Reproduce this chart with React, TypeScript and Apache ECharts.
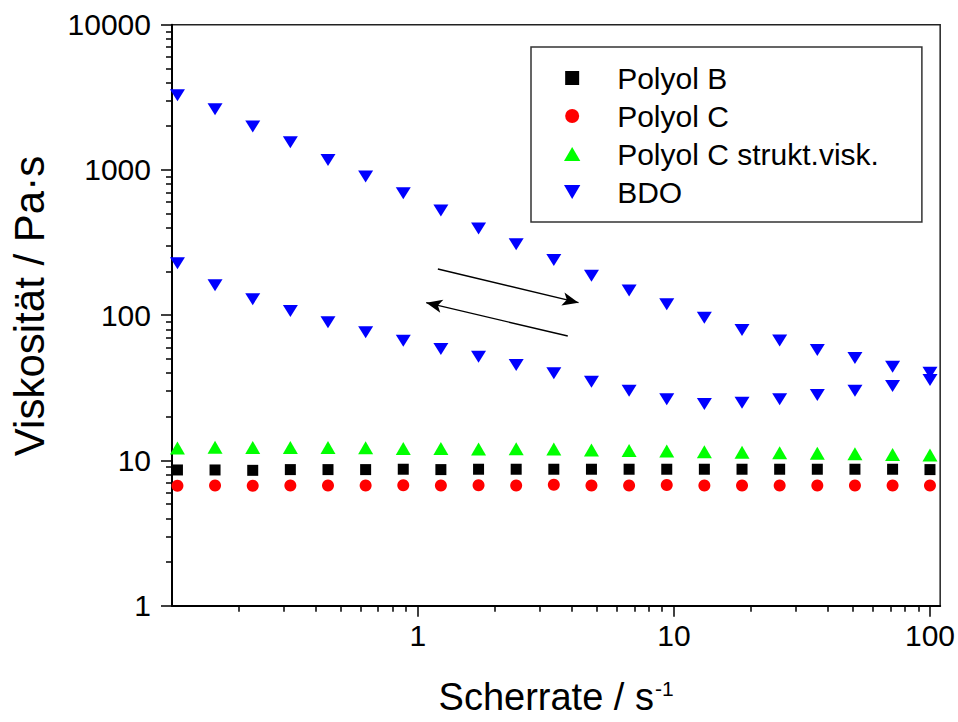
import React, { useEffect, useRef } from "react";
import * as echarts from "echarts";

const FONT = "'Liberation Sans', Arial, sans-serif";

// Shear rate (1/s)
const shearRate = [0.1151, 0.1614, 0.2265, 0.3177, 0.4457, 0.6252, 0.877, 1.23, 1.726, 2.421, 3.396, 4.764, 6.683, 9.376, 13.15, 18.45, 25.88, 36.31, 50.93, 71.45, 100];
// Viscosity (Pa·s)
const polyolB = [8.6, 8.6, 8.55, 8.65, 8.65, 8.65, 8.7, 8.65, 8.7, 8.7, 8.7, 8.7, 8.7, 8.7, 8.7, 8.7, 8.7, 8.7, 8.7, 8.7, 8.65];
const polyolC = [6.7, 6.72, 6.7, 6.72, 6.72, 6.72, 6.75, 6.72, 6.75, 6.72, 6.8, 6.72, 6.72, 6.78, 6.72, 6.72, 6.72, 6.72, 6.72, 6.72, 6.72];
const polyolCStrukt = [12.2, 12.35, 12.3, 12.3, 12.3, 12.25, 12.1, 12.1, 12.0, 12.05, 12.0, 11.8, 11.7, 11.6, 11.5, 11.4, 11.3, 11.2, 11.1, 11.0, 10.9];
const bdoUp = [3270, 2620, 1990, 1550, 1170, 900, 690, 525, 396, 308, 240, 187, 148, 119, 96, 79, 67, 57.6, 50.7, 44.2, 40.2];
const bdoDown = [228, 161, 129, 107, 89.4, 76.3, 66.8, 58.5, 51.8, 45.4, 39.8, 34.8, 30.2, 26.4, 24.5, 25.0, 26.4, 28.2, 30.2, 32.6, 35.8];

const xTicks = [1, 10, 100];
const yTicks = [1, 10, 100, 1000, 10000];

// Annotation arrows (data coordinates: [shear rate, viscosity])
const arrowForward = [[1.197, 208], [4.24, 122]];
const arrowBackward = [[3.85, 71.9], [1.078, 122]];

const seriesNames = ["Polyol B", "Polyol C", "Polyol C strukt.visk."];
const bdoName = "BDO";

const ICON_SQUARE = "path://M0,0L10,0L10,10L0,10Z";
const ICON_CIRCLE = "path://M7,0A7,7,0,1,1,7,14A7,7,0,1,1,7,0Z";
const ICON_UP = "path://M7,0L14,12L0,12Z";
const ICON_DOWN = "path://M0,0L14,0L7,12Z";

const pairs = (ys: number[]) => shearRate.map((x, i) => [x, ys[i]]);

export default function App() {
  const ref = useRef<HTMLDivElement>(null);
  useEffect(() => {
    if (!ref.current) return;
    const chart = echarts.init(ref.current, undefined, { renderer: "svg" });
    const axisLineStyle = { color: "#000", width: 2 };
    const tickStyle = { color: "#000", width: 1.5 };
    chart.setOption({
      animation: false,
      backgroundColor: "#fff",
      grid: {
        left: 172,
        top: 24.7,
        right: 17,
        bottom: 116.3,
        show: true,
        borderColor: "#222",
        borderWidth: 1.5,
        backgroundColor: "transparent",
      },
      legend: {
        orient: "vertical",
        left: 531,
        top: 47,
        padding: [16, 43, 15, 33],
        itemWidth: 80,
        itemHeight: 14,
        itemGap: 8,
        borderColor: "#333",
        borderWidth: 1.5,
        selectedMode: false,
        textStyle: { fontSize: 30, fontFamily: FONT, color: "#000", lineHeight: 30 },
        data: [
          { name: seriesNames[0], icon: ICON_SQUARE },
          { name: seriesNames[1], icon: ICON_CIRCLE },
          { name: seriesNames[2], icon: ICON_UP },
          { name: bdoName, icon: ICON_DOWN },
        ],
      },
      xAxis: {
        type: "log",
        logBase: 10,
        min: 0.1096,
        max: 109.6,
        name: "{a|Scherrate / s}{b|-1}",
        nameLocation: "middle",
        nameGap: 72,
        nameTextStyle: {
          rich: {
            a: { fontSize: 38, fontFamily: FONT, color: "#000" },
            b: { fontSize: 21, fontFamily: FONT, color: "#000", verticalAlign: "top", padding: [0, 0, 0, 1] },
          },
        },
        axisLine: { show: true, lineStyle: axisLineStyle },
        axisTick: { show: true, length: 11, lineStyle: tickStyle, customValues: xTicks },
        minorTick: { show: true, splitNumber: 9, length: 6, lineStyle: tickStyle },
        splitLine: { show: false },
        minorSplitLine: { show: false },
        axisLabel: {
          customValues: xTicks,
          fontSize: 30,
          fontFamily: FONT,
          color: "#000",
          margin: 15,
          formatter: (v: number) => String(Math.round(v)),
        },
      },
      yAxis: {
        type: "log",
        logBase: 10,
        min: 1,
        max: 10000,
        axisLine: { show: true, lineStyle: axisLineStyle },
        axisTick: { show: true, length: 11, lineStyle: tickStyle, customValues: yTicks },
        minorTick: { show: true, splitNumber: 9, length: 6, lineStyle: tickStyle },
        splitLine: { show: false },
        minorSplitLine: { show: false },
        axisLabel: {
          customValues: yTicks,
          fontSize: 30,
          fontFamily: FONT,
          color: "#000",
          margin: 21,
          formatter: (v: number) => String(Math.round(v)),
        },
      },
      graphic: [
        {
          type: "text",
          x: 29,
          y: 306,
          rotation: Math.PI / 2,
          style: {
            text: "Viskosität / Pa·s",
            fontSize: 42,
            fontFamily: FONT,
            fill: "#000",
            align: "center",
            verticalAlign: "middle",
          },
        },
      ],
      series: [
        {
          name: seriesNames[0],
          type: "scatter",
          symbol: "rect",
          symbolSize: 11,
          itemStyle: { color: "#000000", opacity: 1 },
          data: pairs(polyolB),
          z: 3,
        },
        {
          name: seriesNames[1],
          type: "scatter",
          symbol: "circle",
          symbolSize: 12,
          itemStyle: { color: "#ff0000", opacity: 1 },
          data: pairs(polyolC),
          z: 3,
        },
        {
          name: seriesNames[2],
          type: "scatter",
          symbol: "triangle",
          symbolSize: [15, 13],
          itemStyle: { color: "#00ff00", opacity: 1 },
          data: pairs(polyolCStrukt),
          z: 3,
        },
        {
          name: bdoName,
          type: "scatter",
          symbol: ICON_DOWN,
          symbolSize: [15, 12],
          itemStyle: { color: "#0000ff", opacity: 1 },
          data: [...pairs(bdoUp), ...pairs(bdoDown)],
          z: 3,
          markLine: {
            silent: true,
            symbol: ["none", "arrow"],
            symbolSize: [10, 16],
            lineStyle: { color: "#000", width: 1.4, type: "solid", opacity: 1 },
            label: { show: false },
            emphasis: { disabled: true },
            data: [
              [{ coord: arrowForward[0] }, { coord: arrowForward[1] }],
              [{ coord: arrowBackward[0] }, { coord: arrowBackward[1] }],
            ],
          },
        },
      ],
    });
    return () => chart.dispose();
  }, []);
  return (
    <div
      ref={ref}
      style={{ position: "absolute", left: 0, top: 0, width: 958, height: 722, background: "#fff" }}
    />
  );
}
